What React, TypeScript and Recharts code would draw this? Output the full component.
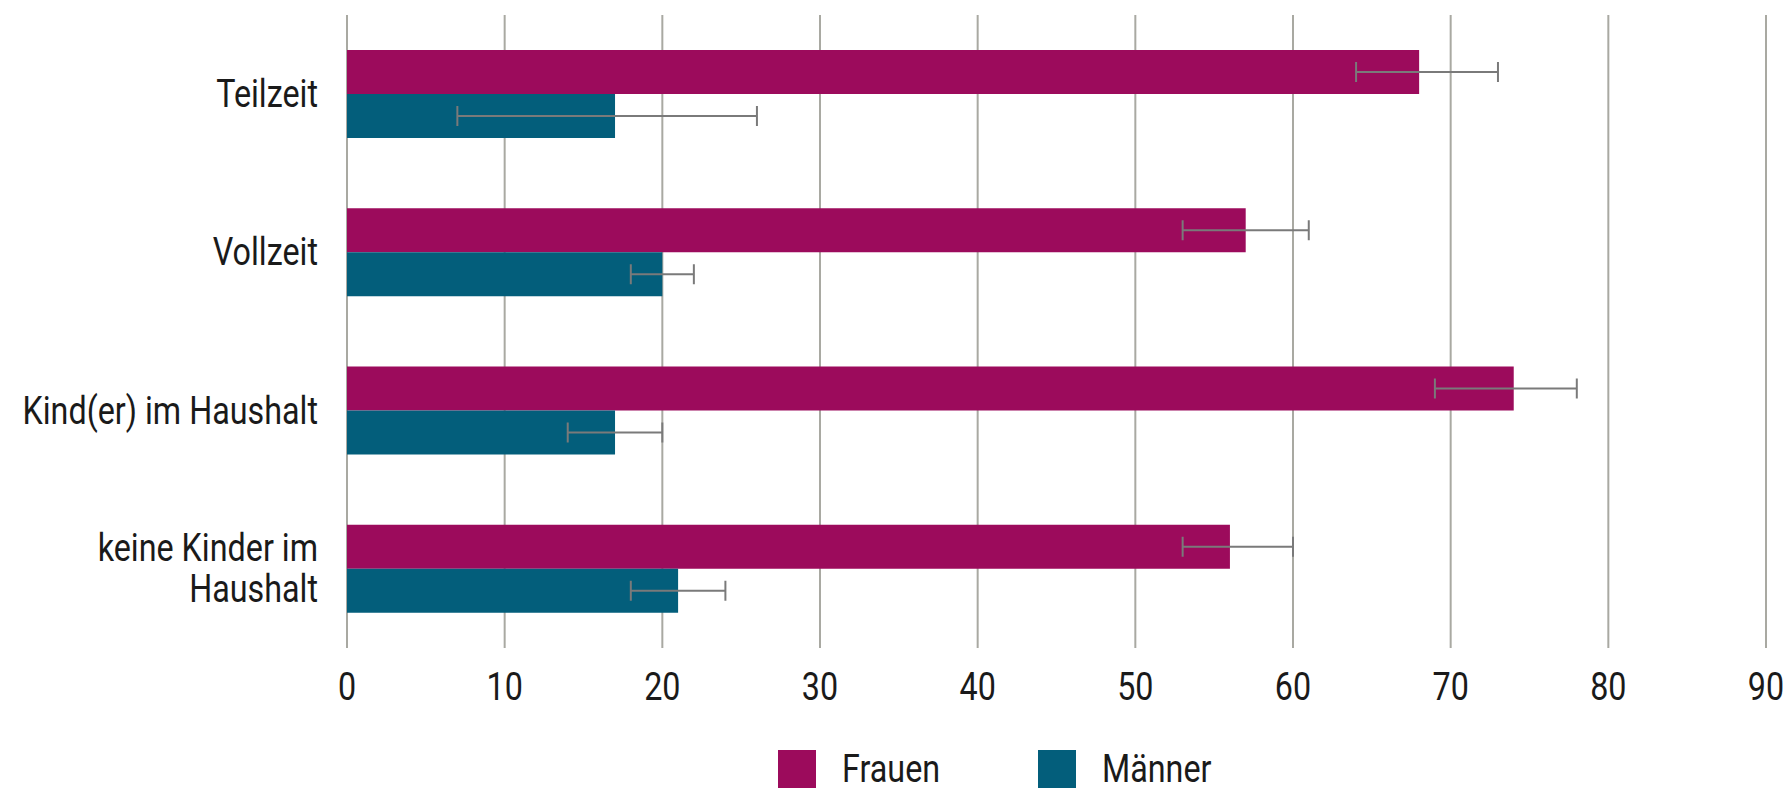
import { Bar, BarChart, CartesianGrid, ErrorBar, Legend, XAxis, YAxis } from "recharts";

const categories = ["Teilzeit", "Vollzeit", "Kind(er) im Haushalt", "keine Kinder im\nHaushalt"];
const frauen = [68, 57, 74, 56];
const frauenLow = [64, 53, 69, 53];
const frauenHigh = [73, 61, 78, 60];
const maenner = [17, 20, 17, 21];
const maennerLow = [7, 18, 14, 18];
const maennerHigh = [26, 22, 20, 24];
const xTicks = [0, 10, 20, 30, 40, 50, 60, 70, 80, 90];

// no condensed font installed, so Roboto gets squeezed horizontally
const FONT = "Roboto, 'Noto Sans', sans-serif";
const SQUEEZE = 0.85;
const TEXT_COLOR = "#1a1a1a";
const FRAUEN_COLOR = "#9c0b5c";
const MAENNER_COLOR = "#035e7b";

// error bars take [minus, plus] offsets from the bar value
const data = categories.map((name, i) => ({
  name,
  frauen: frauen[i],
  frauenErr: [frauen[i] - frauenLow[i], frauenHigh[i] - frauen[i]],
  maenner: maenner[i],
  maennerErr: [maenner[i] - maennerLow[i], maennerHigh[i] - maenner[i]],
}));

const legendItems = [
  { label: "Frauen", color: FRAUEN_COLOR },
  { label: "Männer", color: MAENNER_COLOR },
];

function CategoryTick({ x, y, payload }: any) {
  const lines = String(payload.value).split("\n");
  const lineHeight = 41;
  const startDy = -((lines.length - 1) * lineHeight) / 2;
  return (
    <g transform={`translate(${x},${y}) scale(${SQUEEZE},1)`}>
      <text
        x={0}
        y={0}
        textAnchor="end"
        fill={TEXT_COLOR}
        fontSize={38}
        fontFamily={FONT}
        dominantBaseline="central"
      >
        {lines.map((line, i) => (
          <tspan key={line} x={0} dy={i === 0 ? startDy : lineHeight}>
            {line}
          </tspan>
        ))}
      </text>
    </g>
  );
}

function ValueTick({ x, y, payload }: any) {
  return (
    <g transform={`translate(${x},${y}) scale(${SQUEEZE},1)`}>
      <text x={0} y={0} dy="0.71em" textAnchor="middle" fill={TEXT_COLOR} fontSize={38} fontFamily={FONT}>
        {payload.value}
      </text>
    </g>
  );
}

function LegendContent() {
  return (
    <div style={{ display: "flex", alignItems: "center", fontFamily: FONT, fontSize: 38, color: TEXT_COLOR }}>
      {legendItems.map((item, i) => (
        <div key={item.label} style={{ display: "flex", alignItems: "center", width: i === 0 ? 260 : 200 }}>
          <span style={{ width: 38, height: 38, background: item.color, display: "inline-block", marginRight: 26 }} />
          <span style={{ display: "inline-block", transform: `scaleX(${SQUEEZE})`, transformOrigin: "left center" }}>
            {item.label}
          </span>
        </div>
      ))}
    </div>
  );
}

export default function App() {
  return (
    <div style={{ width: 1791, height: 790, background: "#fff" }}>
      <style>{`body { margin: 0; }`}</style>
      <BarChart
        width={1791}
        height={790}
        data={data}
        layout="vertical"
        margin={{ top: 15, right: 25, bottom: 0, left: 0 }}
        barSize={44}
        barGap={0}
      >
        <CartesianGrid horizontal={false} stroke="#a9a9a2" strokeWidth={2} />
        <XAxis
          type="number"
          domain={[0, 90]}
          ticks={xTicks}
          axisLine={false}
          tickLine={false}
          tickMargin={19}
          height={142}
          tick={<ValueTick />}
        />
        <YAxis
          type="category"
          dataKey="name"
          width={347}
          axisLine={false}
          tickLine={false}
          tickMargin={23}
          tick={<CategoryTick />}
        />
        <Bar dataKey="frauen" name="Frauen" fill={FRAUEN_COLOR} isAnimationActive={false}>
          <ErrorBar dataKey="frauenErr" direction="x" width={10} stroke="#7a7a7a" strokeWidth={2} />
        </Bar>
        <Bar dataKey="maenner" name="Männer" fill={MAENNER_COLOR} isAnimationActive={false}>
          <ErrorBar dataKey="maennerErr" direction="x" width={10} stroke="#7a7a7a" strokeWidth={2} />
        </Bar>
        <Legend
          layout="horizontal"
          verticalAlign="middle"
          content={<LegendContent />}
          wrapperStyle={{ top: 747, left: 778, width: "auto", height: "auto" }}
        />
      </BarChart>
    </div>
  );
}
